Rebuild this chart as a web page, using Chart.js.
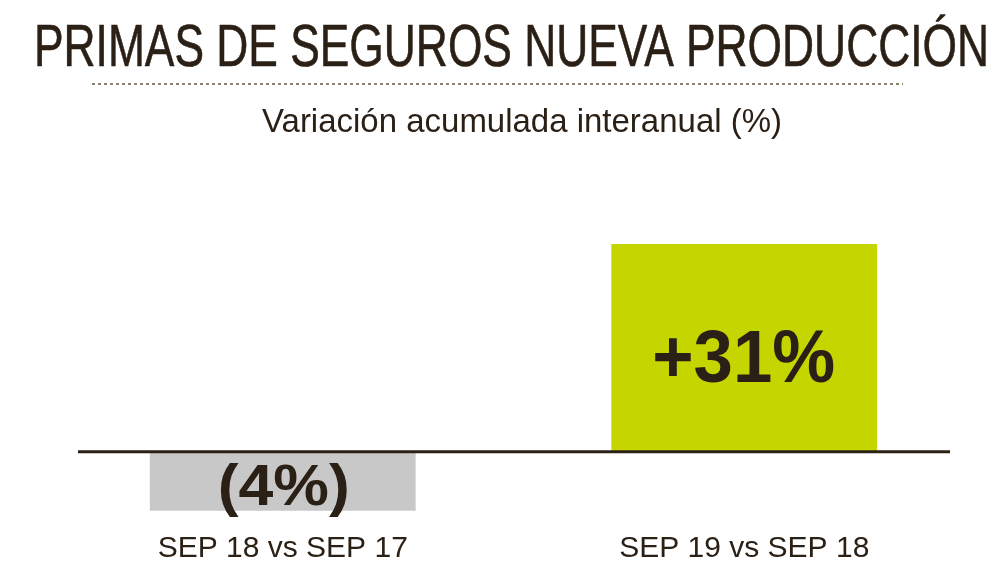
<!DOCTYPE html>
<html>
<head>
<meta charset="utf-8">
<script src="https://cdn.jsdelivr.net/npm/chart.js@4.4.1/dist/chart.umd.min.js"></script>
<style>
html,body{margin:0;padding:0;background:#fff;}
#wrap{width:1001px;height:564px;position:relative;}
</style>
</head>
<body>
<div id="wrap"><canvas id="c" width="1001" height="564"></canvas></div>
<script>
const categories = ["SEP 18 vs SEP 17", "SEP 19 vs SEP 18"];
const values = [-4, 31];
const valueLabels = ["(4%)", "+31%"];
const barColors = ["#c8c8c8", "#c5d500"];
const titleText = "PRIMAS DE SEGUROS NUEVA PRODUCCIÓN";
const subtitleText = "Variación acumulada interanual (%)";

const DARK = "#2b2016";

function fitText(ctx, text, font, x0, x1, baseline, color, stroke) {
  ctx.save();
  ctx.font = font;
  ctx.fillStyle = color;
  ctx.textBaseline = "alphabetic";
  ctx.textAlign = "left";
  const w = ctx.measureText(text).width;
  const sx = (x1 - x0) / w;
  ctx.translate(x0, baseline);
  ctx.scale(sx, 1);
  ctx.fillText(text, 0, 0);
  if (stroke) {
    ctx.strokeStyle = color;
    ctx.lineWidth = stroke;
    ctx.lineJoin = "round";
    ctx.strokeText(text, 0, 0);
  }
  ctx.restore();
}

const decor = {
  id: "decor",
  afterDraw(chart) {
    const ctx = chart.ctx;
    fitText(ctx, titleText, "400 60px 'Liberation Sans'", 34, 989, 66, DARK, 0.6);
    ctx.save();
    ctx.strokeStyle = "#8c8070";
    ctx.lineWidth = 2;
    ctx.setLineDash([3, 3]);
    ctx.beginPath();
    ctx.moveTo(92, 84);
    ctx.lineTo(903, 84);
    ctx.stroke();
    ctx.restore();
    fitText(ctx, subtitleText, "400 34px 'Liberation Sans'", 262, 782, 132, DARK);
  },
  afterDatasetsDraw(chart) {
    const ctx = chart.ctx;
    const y = chart.scales.y.getPixelForValue(0);
    ctx.save();
    ctx.strokeStyle = DARK;
    ctx.lineWidth = 3;
    ctx.beginPath();
    ctx.moveTo(78, y);
    ctx.lineTo(950, y);
    ctx.stroke();
    ctx.restore();
    const meta = chart.getDatasetMeta(0);
    meta.data.forEach((bar, i) => {
      const txt = valueLabels[i];
      const mid = (bar.y + bar.base) / 2;
      if (values[i] >= 0) {
        fitText(ctx, txt, "700 74px 'Liberation Sans'", bar.x - 92, bar.x + 91, mid + 34, DARK);
      } else {
        fitText(ctx, txt, "700 58px 'Liberation Sans'", bar.x - 65, bar.x + 67, mid + 24, DARK);
      }
    });
  }
};

new Chart(document.getElementById("c"), {
  type: "bar",
  data: {
    labels: categories,
    datasets: [{
      data: values,
      backgroundColor: barColors,
      borderWidth: 0,
      barPercentage: 0.576,
      categoryPercentage: 1.0,
      minBarLength: 59
    }]
  },
  options: {
    responsive: false,
    animation: false,
    layout: { padding: { top: 244, left: 52, right: 26, bottom: 0 } },
    plugins: {
      legend: { display: false },
      tooltip: { enabled: false },
      title: { display: false }
    },
    scales: {
      y: {
        display: false,
        min: -9,
        max: 31
      },
      x: {
        grid: { display: false, drawTicks: false },
        border: { display: false },
        afterFit(axis) { axis.height = 52; },
        ticks: {
          color: DARK,
          padding: 22,
          font: { family: "'Liberation Sans'", size: 30, lineHeight: 1 }
        }
      }
    }
  },
  plugins: [decor]
});
</script>
</body>
</html>
